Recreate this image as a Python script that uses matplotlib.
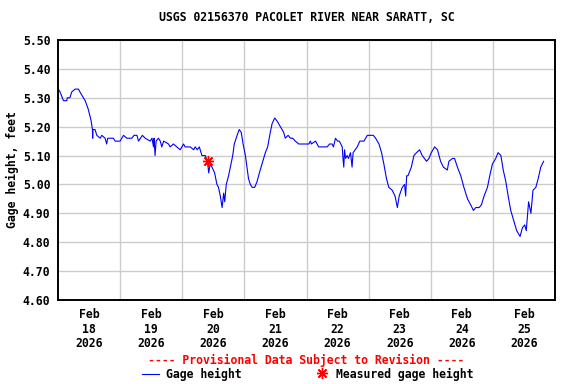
import matplotlib
matplotlib.use("Agg")
import matplotlib.pyplot as plt
from matplotlib.lines import Line2D

# hours since Feb 18 2026 00:00 and gage height, feet
hours = [0.1, 0.8, 2.1, 3.4, 3.6, 4.6, 5.3, 6.6, 7.9, 8.5, 9.8, 10.5, 11.7, 12.8,
         13.3, 13.4, 13.5, 14.3, 15.0, 16.3, 16.9, 18.2, 18.8, 19.2, 20.1, 21.4,
         22.1, 24.0, 25.3, 26.6, 28.5, 29.4, 30.5, 31.1, 32.6, 33.7, 35.6, 36.3,
         36.9, 37.1, 37.5, 37.9, 38.8, 39.5, 40.1, 40.8, 42.7, 43.3, 44.6, 45.9,
         47.2, 48.5, 49.1, 51.1, 52.4, 53.0, 53.8, 54.6, 55.6, 56.9, 57.8, 58.2,
         58.8, 59.5, 60.5, 61.4, 62.0, 62.7, 63.4, 64.0, 64.4, 65.0, 65.9, 66.6,
         67.5, 68.1, 69.2, 70.0, 70.8, 71.5, 72.4, 73.0, 73.6, 74.3, 75.0, 76.0,
         76.9, 77.8, 78.8, 80.1, 81.0, 82.0, 82.7, 83.7, 84.6, 85.9, 87.2, 87.8,
         88.9, 89.8, 90.7, 91.7, 93.0, 96.9, 97.5, 97.9, 99.5, 100.7, 104.0, 104.9,
         105.9, 106.4, 107.2, 108.0, 108.7, 109.8, 110.1, 110.4, 110.7, 111.1,
         111.7, 112.2, 113.0, 113.6, 114.0, 115.6, 116.6, 118.2, 119.5, 120.7,
         121.8, 122.7, 124.0, 125.0, 125.9, 126.9, 127.8, 129.1, 130.2, 131.1,
         131.8, 133.0, 133.9, 134.3, 134.7, 135.2, 136.5, 137.5, 138.5, 139.7,
         140.7, 142.4, 143.3, 144.2, 145.5, 146.6, 147.8, 148.9, 150.4, 151.0,
         152.4, 153.2, 154.3, 155.6, 156.8, 158.2, 159.4, 160.5, 161.4, 162.7,
         163.6, 164.6, 165.9, 166.8, 167.8, 169.1, 170.0, 171.1, 172.0, 173.0,
         173.9, 174.9, 176.2, 177.2, 178.5, 179.4, 180.3, 180.9, 181.8, 182.7,
         183.5, 184.6, 185.5, 186.5, 187.6]
gage = [5.33, 5.32, 5.29, 5.29, 5.30, 5.30, 5.32, 5.33, 5.33, 5.32, 5.30, 5.29,
        5.26, 5.22, 5.19, 5.16, 5.19, 5.19, 5.17, 5.16, 5.17, 5.16, 5.14, 5.16,
        5.16, 5.16, 5.15, 5.15, 5.17, 5.16, 5.16, 5.17, 5.17, 5.15, 5.17, 5.16,
        5.15, 5.16, 5.13, 5.16, 5.10, 5.15, 5.16, 5.15, 5.13, 5.15, 5.14, 5.13,
        5.14, 5.13, 5.12, 5.14, 5.13, 5.13, 5.12, 5.13, 5.12, 5.13, 5.10, 5.10,
        5.08, 5.04, 5.07, 5.06, 5.04, 5.00, 4.99, 4.96, 4.92, 4.97, 4.94, 5.00,
        5.03, 5.06, 5.10, 5.14, 5.17, 5.19, 5.18, 5.14, 5.10, 5.06, 5.02, 5.00,
        4.99, 4.99, 5.01, 5.04, 5.07, 5.11, 5.13, 5.18, 5.21, 5.23, 5.22, 5.20,
        5.18, 5.16, 5.17, 5.16, 5.16, 5.15, 5.14, 5.14, 5.15, 5.14, 5.15, 5.13,
        5.13, 5.14, 5.14, 5.13, 5.16, 5.15, 5.15, 5.13, 5.09, 5.06, 5.12, 5.09,
        5.10, 5.09, 5.11, 5.06, 5.11, 5.13, 5.15, 5.15, 5.17, 5.17, 5.17, 5.16,
        5.14, 5.11, 5.07, 5.02, 4.99, 4.98, 4.96, 4.92, 4.96, 4.99, 5.00, 4.96,
        5.03, 5.03, 5.06, 5.10, 5.11, 5.12, 5.10, 5.08, 5.09, 5.11, 5.13, 5.12,
        5.08, 5.06, 5.05, 5.08, 5.09, 5.09, 5.06, 5.03, 4.99, 4.95, 4.93, 4.91,
        4.92, 4.92, 4.93, 4.96, 4.99, 5.03, 5.07, 5.09, 5.11, 5.10, 5.05, 5.01,
        4.96, 4.91, 4.87, 4.84, 4.82, 4.85, 4.86, 4.84, 4.94, 4.90, 4.98, 4.99,
        5.02, 5.06, 5.08]

meas_hours = [57.8]
meas_gage = [5.08]

day_labels = ["Feb\n18\n2026", "Feb\n19\n2026", "Feb\n20\n2026", "Feb\n21\n2026",
              "Feb\n22\n2026", "Feb\n23\n2026", "Feb\n24\n2026", "Feb\n25\n2026"]
y_ticks = [4.60, 4.70, 4.80, 4.90, 5.00, 5.10, 5.20, 5.30, 5.40, 5.50]

plt.rcParams["font.family"] = ["DejaVu Sans Mono"]
plt.rcParams["font.weight"] = "bold"
fs = 8.3

fig = plt.figure(figsize=(5.76, 3.84), dpi=100)
ax = fig.add_axes([58 / 576, 1 - 300 / 384, (555 - 58) / 576, 260 / 384])

ax.plot(hours, gage, color="#0000ff", linewidth=0.8)
ax.plot(meas_hours, meas_gage, linestyle="none", marker=(8, 2, 0),
        markersize=8, markeredgecolor="red", markeredgewidth=1.0)

ax.set_xlim(0, 192)
ax.set_ylim(4.60, 5.50)
ax.set_xticks([12 + 24 * i for i in range(8)])
ax.set_xticklabels(day_labels, fontsize=fs, fontweight="bold", linespacing=1.15)
ax.set_xticks([24 * i for i in range(1, 8)], minor=True)
ax.set_yticks(y_ticks)
ax.set_yticklabels(["%.2f" % v for v in y_ticks], fontsize=fs, fontweight="bold")
ax.tick_params(axis="both", which="both", length=0)
ax.tick_params(axis="x", pad=6)
ax.tick_params(axis="y", pad=5.5)
ax.grid(True, axis="y", color="#cccccc", linewidth=1.0)
ax.grid(True, axis="x", which="minor", color="#cccccc", linewidth=1.0)
ax.set_axisbelow(True)
for s in ax.spines.values():
    s.set_linewidth(1.4)
    s.set_color("black")

ax.set_ylabel("Gage height, feet", fontsize=fs, fontweight="bold", labelpad=3)
ax.set_title("USGS 02156370 PACOLET RIVER NEAR SARATT, SC", fontsize=fs,
             fontweight="bold", pad=14)

# footer
fig.text(306 / 576, 1 - 360 / 384, "---- Provisional Data Subject to Revision ----",
         color="red", fontsize=fs, fontweight="bold", ha="center", va="center")
fig.add_artist(Line2D([142 / 576, 159 / 576], [1 - 374 / 384, 1 - 374 / 384],
                      color="#0000ff", linewidth=0.8))
fig.text(166 / 576, 1 - 374 / 384, "Gage height", fontsize=fs, fontweight="bold",
         ha="left", va="center")
fig.add_artist(Line2D([322 / 576], [1 - 373 / 384], linestyle="none", marker=(8, 2, 0),
                      markersize=8, markeredgecolor="red", markeredgewidth=1.0))
fig.text(336 / 576, 1 - 374 / 384, "Measured gage height", fontsize=fs,
         fontweight="bold", ha="left", va="center")

fig.savefig("out.png", dpi=100)
